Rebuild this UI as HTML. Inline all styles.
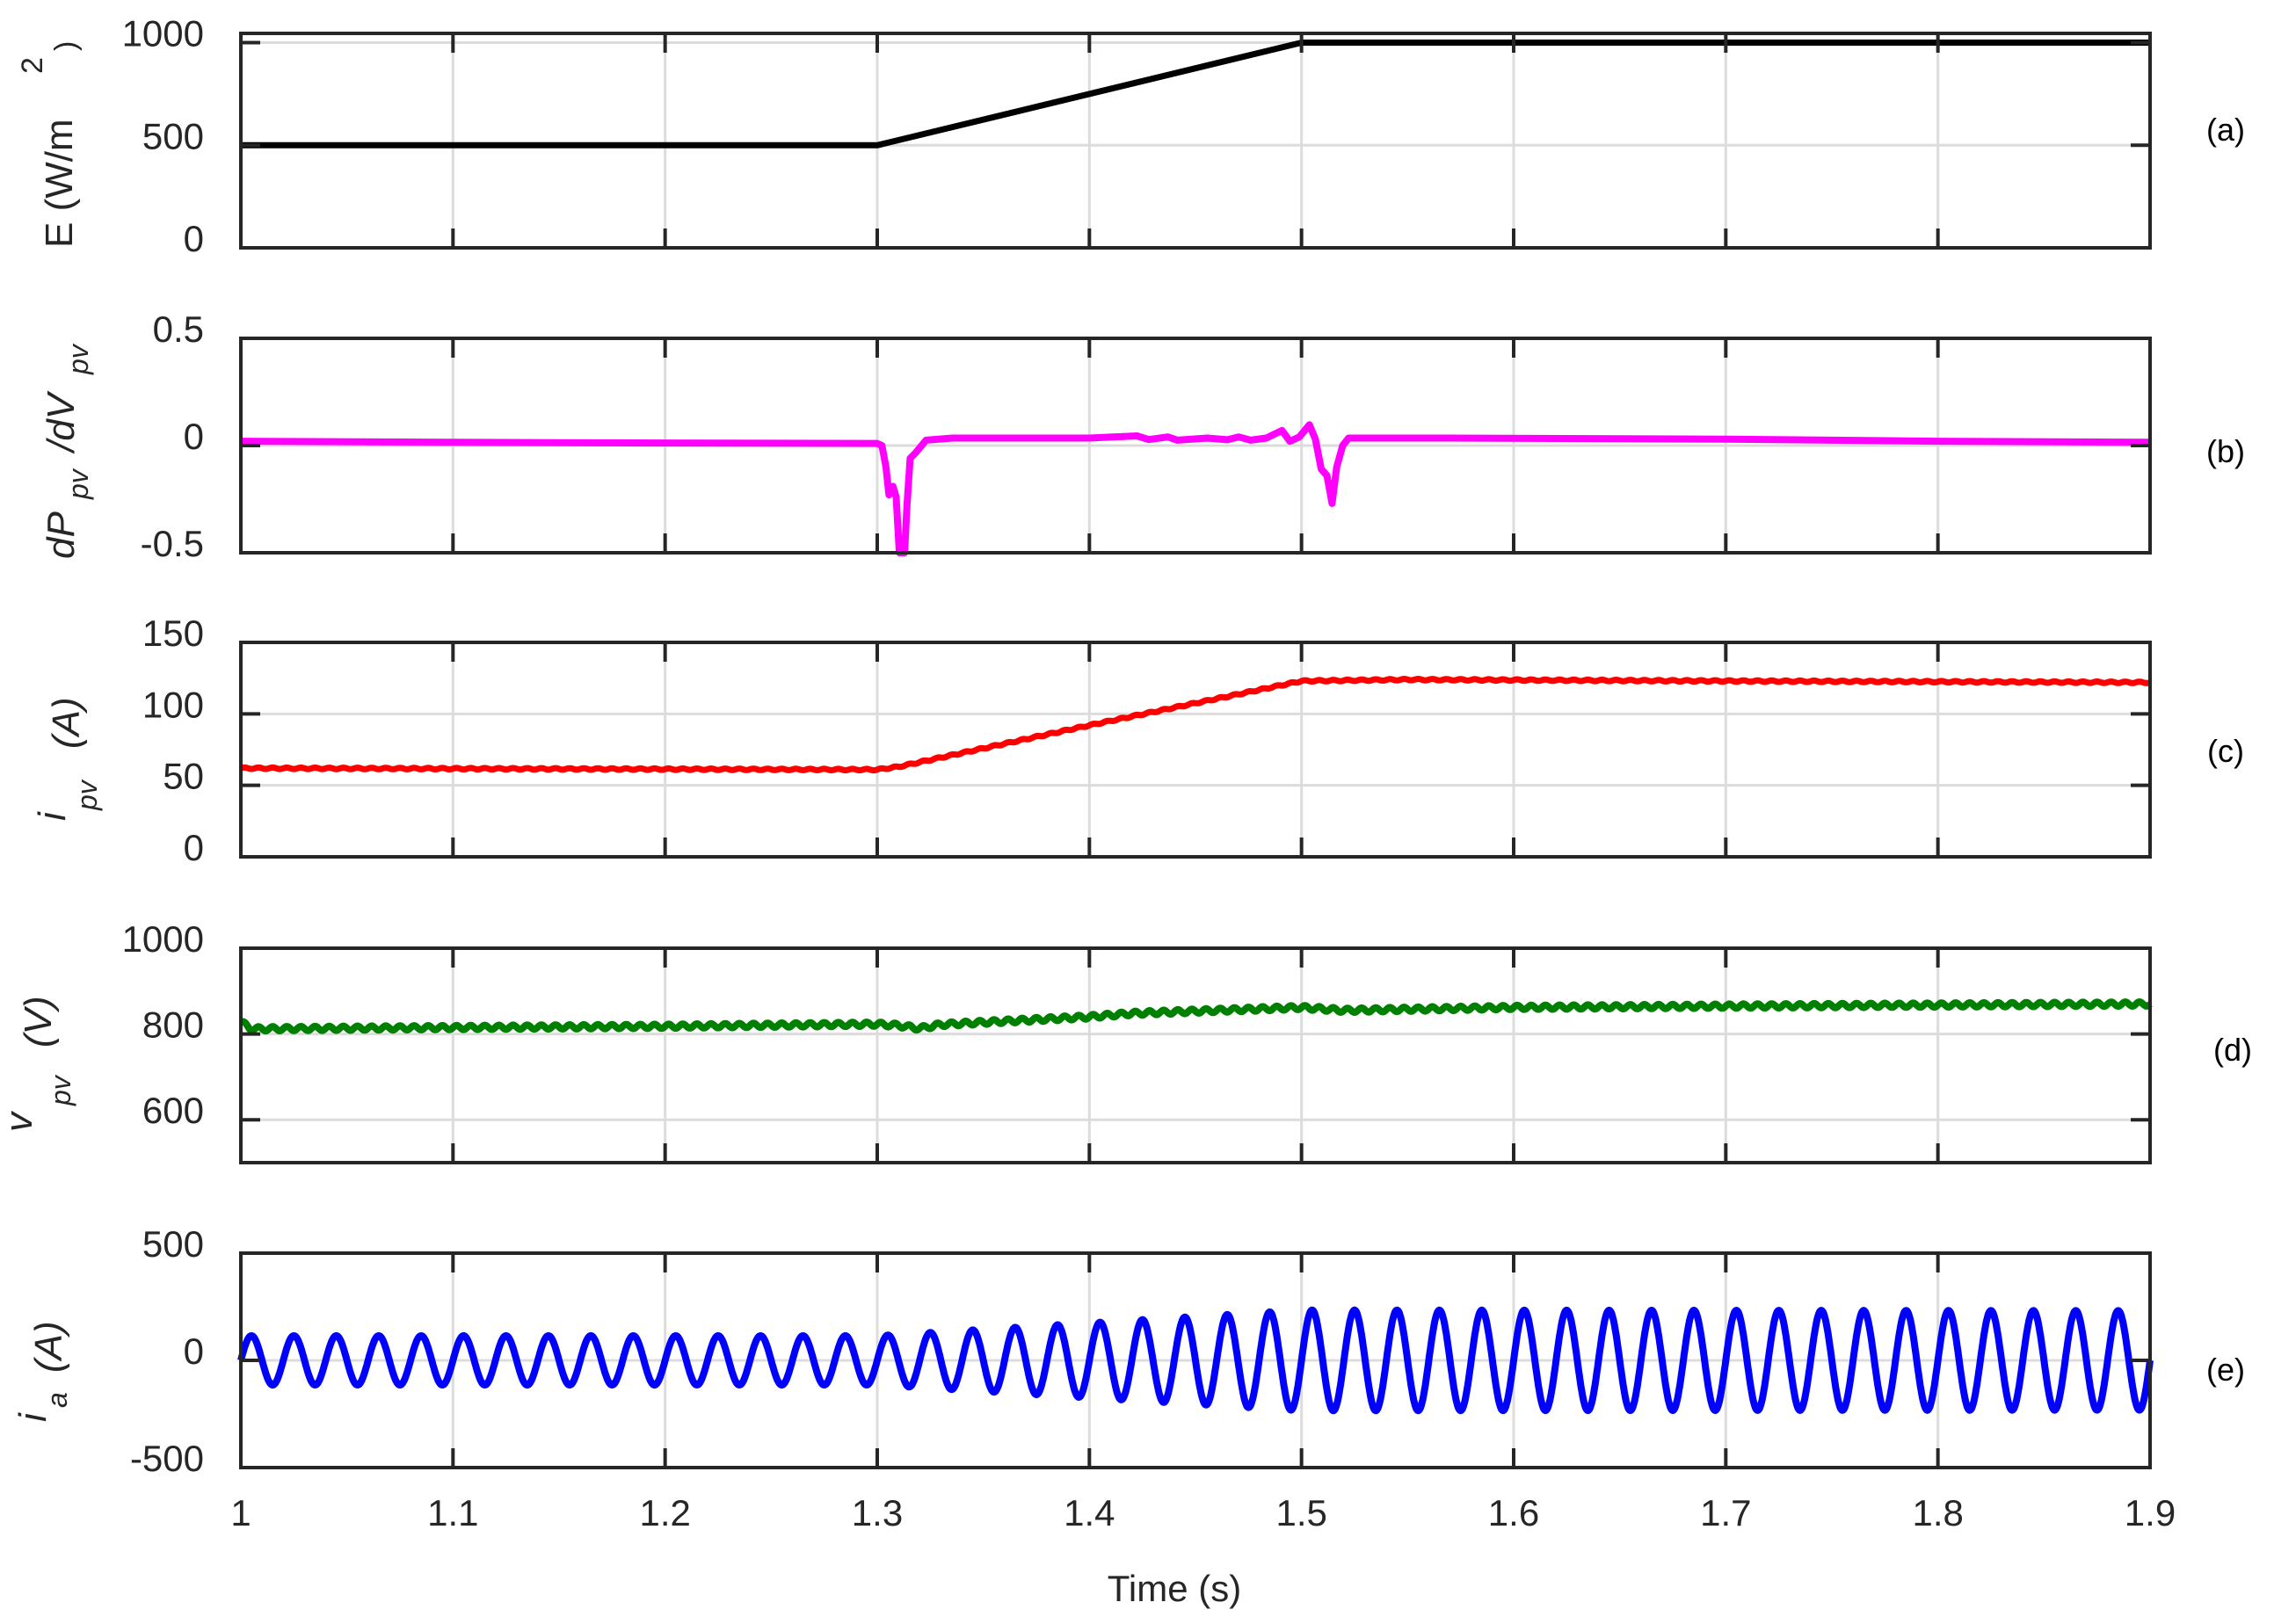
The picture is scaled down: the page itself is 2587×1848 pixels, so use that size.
<!DOCTYPE html>
<html><head><meta charset="utf-8">
<style>
html,body{margin:0;padding:0;background:#fff;}
svg{display:block;font-family:"Liberation Sans",Arial,sans-serif;}
</style></head>
<body>
<svg id="chart" width="2587" height="1848" viewBox="0 0 2587 1848" xmlns="http://www.w3.org/2000/svg">
<rect width="2587" height="1848" fill="#fff"/>
<g id="grid"></g>
<g id="series"></g>
<g id="axes"></g>
<g id="labels" font-size="42" fill="#262626"></g>
</svg>
<script>
// ---- data ----
const xTicks = [1, 1.1, 1.2, 1.3, 1.4, 1.5, 1.6, 1.7, 1.8, 1.9];
const xTickLabels = ["1", "1.1", "1.2", "1.3", "1.4", "1.5", "1.6", "1.7", "1.8", "1.9"];
// (a) irradiance
const eTimes = [1, 1.3, 1.5, 1.9];
const eValues = [500, 500, 1000, 1000];
const eTicks = [0, 500, 1000];
// (b) dP/dV
const dTimes = [1, 1.1, 1.2, 1.3, 1.3022, 1.3041, 1.3055, 1.3074, 1.3089, 1.3104, 1.3129, 1.314, 1.3155, 1.318, 1.323, 1.3355, 1.4, 1.4224, 1.428, 1.437, 1.4415, 1.4556, 1.465, 1.4704, 1.476, 1.4834, 1.4908, 1.4945, 1.499, 1.5037, 1.5065, 1.5093, 1.512, 1.5144, 1.5166, 1.5194, 1.5222, 1.57, 1.7, 1.8, 1.9];
const dValues = [0.02, 0.015, 0.012, 0.01, 0.0, -0.10, -0.23, -0.19, -0.24, -0.5, -0.5, -0.28, -0.06, -0.035, 0.025, 0.035, 0.035, 0.045, 0.028, 0.04, 0.025, 0.035, 0.027, 0.04, 0.025, 0.035, 0.07, 0.02, 0.04, 0.097, 0.03, -0.11, -0.14, -0.27, -0.1, 0.0, 0.035, 0.035, 0.03, 0.02, 0.015];
const dTicks = [-0.5, 0, 0.5];
const dTickLabels = ["-0.5", "0", "0.5"];
// (c) ipv
const iTimes = [1, 1.3, 1.31, 1.4, 1.5, 1.55, 1.7, 1.9];
const iValues = [62, 61, 63, 92, 123, 124, 123, 122];
const iTicks = [0, 50, 100, 150];
const iRipple = 0.5;
// (d) vpv
const vTimes = [1, 1.005, 1.1, 1.2, 1.3, 1.31, 1.32, 1.33, 1.4, 1.42, 1.5, 1.52, 1.6, 1.7, 1.9];
const vValues = [828, 812, 815, 818, 823, 820, 813, 822, 840, 848, 862, 855, 862, 865, 870];
const vTicks = [600, 800, 1000];
const vRipple = 5;
// (e) ia amplitude envelope (50 Hz)
const aTimes = [1, 1.3, 1.5, 1.9];
const aAmps = [115, 115, 235, 232];
const aTicks = [-500, 0, 500];
const gridFreq = 50;

// ---- layout ----
const L = 274, R = 2446, H = 244;
const tops = [38, 385, 731, 1079, 1426];
const NS = "http://www.w3.org/2000/svg";
const gGrid = document.getElementById('grid'), gSer = document.getElementById('series'),
      gAx = document.getElementById('axes'), gLab = document.getElementById('labels');
function xs(t){ return L + (t - 1) / 0.9 * (R - L); }
function mk(tag, attrs, parent){ const e = document.createElementNS(NS, tag); for (const k in attrs) e.setAttribute(k, attrs[k]); parent.appendChild(e); return e; }
function interp(ts, vs, t){ for (let i = 1; i < ts.length; i++){ if (t <= ts[i]) { const f = (t - ts[i-1]) / (ts[i] - ts[i-1]); return vs[i-1] + f * (vs[i] - vs[i-1]); } } return vs[vs.length-1]; }

const panels = [
  {name:'irradiance', lo:0, hi:1045, ticks:eTicks, labels:eTicks.map(String)},
  {name:'dpdv', lo:-0.5, hi:0.5, ticks:dTicks, labels:dTickLabels},
  {name:'ipv', lo:0, hi:150, ticks:iTicks, labels:iTicks.map(String)},
  {name:'vpv', lo:500, hi:1000, ticks:vTicks, labels:vTicks.map(String)},
  {name:'ia', lo:-500, hi:500, ticks:aTicks, labels:aTicks.map(String)}
];
panels.forEach((p, k) => { p.top = tops[k]; p.ys = v => p.top + H - (v - p.lo) / (p.hi - p.lo) * H; });

panels.forEach((p, k) => {
  xTicks.forEach(t => {
    const gl = mk('line', {x1:xs(t), x2:xs(t), y1:p.top, y2:p.top+H, stroke:'#dcdcdc', 'stroke-width':3}, gGrid);
    
    
  });
  p.ticks.forEach(v => {
    const gl = mk('line', {x1:L, x2:R, y1:p.ys(v), y2:p.ys(v), stroke:'#dcdcdc', 'stroke-width':3}, gGrid);
    
    
  });
  const box = mk('rect', {x:L, y:p.top, width:R-L, height:H, fill:'none', stroke:'#262626', 'stroke-width':4}, gAx);
  
  
  xTicks.forEach(t => {
    mk('line', {x1:xs(t), x2:xs(t), y1:p.top, y2:p.top+22, stroke:'#262626', 'stroke-width':4}, gAx);
    mk('line', {x1:xs(t), x2:xs(t), y1:p.top+H, y2:p.top+H-22, stroke:'#262626', 'stroke-width':4}, gAx);
  });
  p.ticks.forEach((v, i) => {
    mk('line', {x1:L, x2:L+22, y1:p.ys(v), y2:p.ys(v), stroke:'#262626', 'stroke-width':4}, gAx);
    mk('line', {x1:R, x2:R-22, y1:p.ys(v), y2:p.ys(v), stroke:'#262626', 'stroke-width':4}, gAx);
    const tl = mk('text', {x:232, y:p.ys(v)+4, 'text-anchor':'end'}, gLab);
    tl.textContent = p.labels[i];
    
    
  });
});
xTicks.forEach((t, i) => {
  const tl = mk('text', {x:xs(t), y:1736, 'text-anchor':'middle'}, gLab);
  tl.textContent = xTickLabels[i];
  
  
});

function drawPath(pts, color, w, name){
  const d = pts.map((q, i) => (i ? 'L' : 'M') + q[0].toFixed(1) + ' ' + q[1].toFixed(1)).join(' ');
  const el = mk('path', {d:d, fill:'none', stroke:color, 'stroke-width':w, 'stroke-linejoin':'round'}, gSer);
  
  
}
drawPath(eTimes.map((t, i) => [xs(t), panels[0].ys(eValues[i])]), '#000', 7, 'irradiance-line');
drawPath(dTimes.map((t, i) => [xs(t), panels[1].ys(dValues[i])]), '#ff00ff', 8, 'dpdv-line');
const N = 3000;
let ci = [], vi = [], ai = [];
for (let s = 0; s <= N; s++){
  const t = 1 + 0.9 * s / N;
  ci.push([xs(t), panels[2].ys(interp(iTimes, iValues, t) + iRipple * Math.sin(2*Math.PI*150*(t-1)))]);
  vi.push([xs(t), panels[3].ys(interp(vTimes, vValues, t) + vRipple * Math.sin(2*Math.PI*150*(t-1)))]);
  ai.push([xs(t), panels[4].ys(interp(aTimes, aAmps, t) * Math.sin(2*Math.PI*gridFreq*(t-1)))]);
}
drawPath(ci, '#ff0000', 7, 'ipv-line');
drawPath(vi, '#008000', 8, 'vpv-line');
drawPath(ai, '#0000ff', 8, 'ia-line');
</script>
<div style="position:absolute;left:0;top:0;width:2587px;height:1848px;pointer-events:none">
<svg width="2587" height="1848" style="position:absolute;left:0;top:0" font-family="'Liberation Sans',Arial,sans-serif" fill="#262626">
  <g>
    <text transform="translate(82,282) rotate(-90)" font-size="44">E (W/m</text>
    <text transform="translate(48,84) rotate(-90)" font-size="34">2</text>
    <text transform="translate(86,58) rotate(-90)" font-size="34">)</text>
  </g>
  <g font-style="italic">
    <text transform="translate(84,636) rotate(-90)" font-size="44">dP</text>
    <text transform="translate(100,568) rotate(-90)" font-size="32">pv</text>
    <text transform="translate(84,514) rotate(-90)" font-size="44">/dV</text>
    <text transform="translate(100,426) rotate(-90)" font-size="32">pv</text>
  </g>
  <g font-style="italic">
    <text transform="translate(74,934) rotate(-90)" font-size="44">i</text>
    <text transform="translate(110,922) rotate(-90)" font-size="32">pv</text>
    <text transform="translate(90,852) rotate(-90)" font-size="44">(A)</text>
  </g>
  <g font-style="italic">
    <text transform="translate(36,1288) rotate(-90)" font-size="44">v</text>
    <text transform="translate(80,1258) rotate(-90)" font-size="32">pv</text>
    <text transform="translate(58,1192) rotate(-90)" font-size="44">(V)</text>
  </g>
  <g font-style="italic">
    <text transform="translate(52,1618) rotate(-90)" font-size="44">i</text>
    <text transform="translate(76,1602) rotate(-90)" font-size="32">a</text>
    <text transform="translate(70,1562) rotate(-90)" font-size="44">(A)</text>
  </g>
  <g font-size="36" fill="#000" text-anchor="middle">
    <text x="2532" y="160">(a)</text>
    <text x="2532" y="526">(b)</text>
    <text x="2532" y="867">(c)</text>
    <text x="2540" y="1207">(d)</text>
    <text x="2532" y="1571">(e)</text>
  </g>
  <text x="1336" y="1822" font-size="42" text-anchor="middle">Time (s)</text>
</svg>
</div>
</body></html>
